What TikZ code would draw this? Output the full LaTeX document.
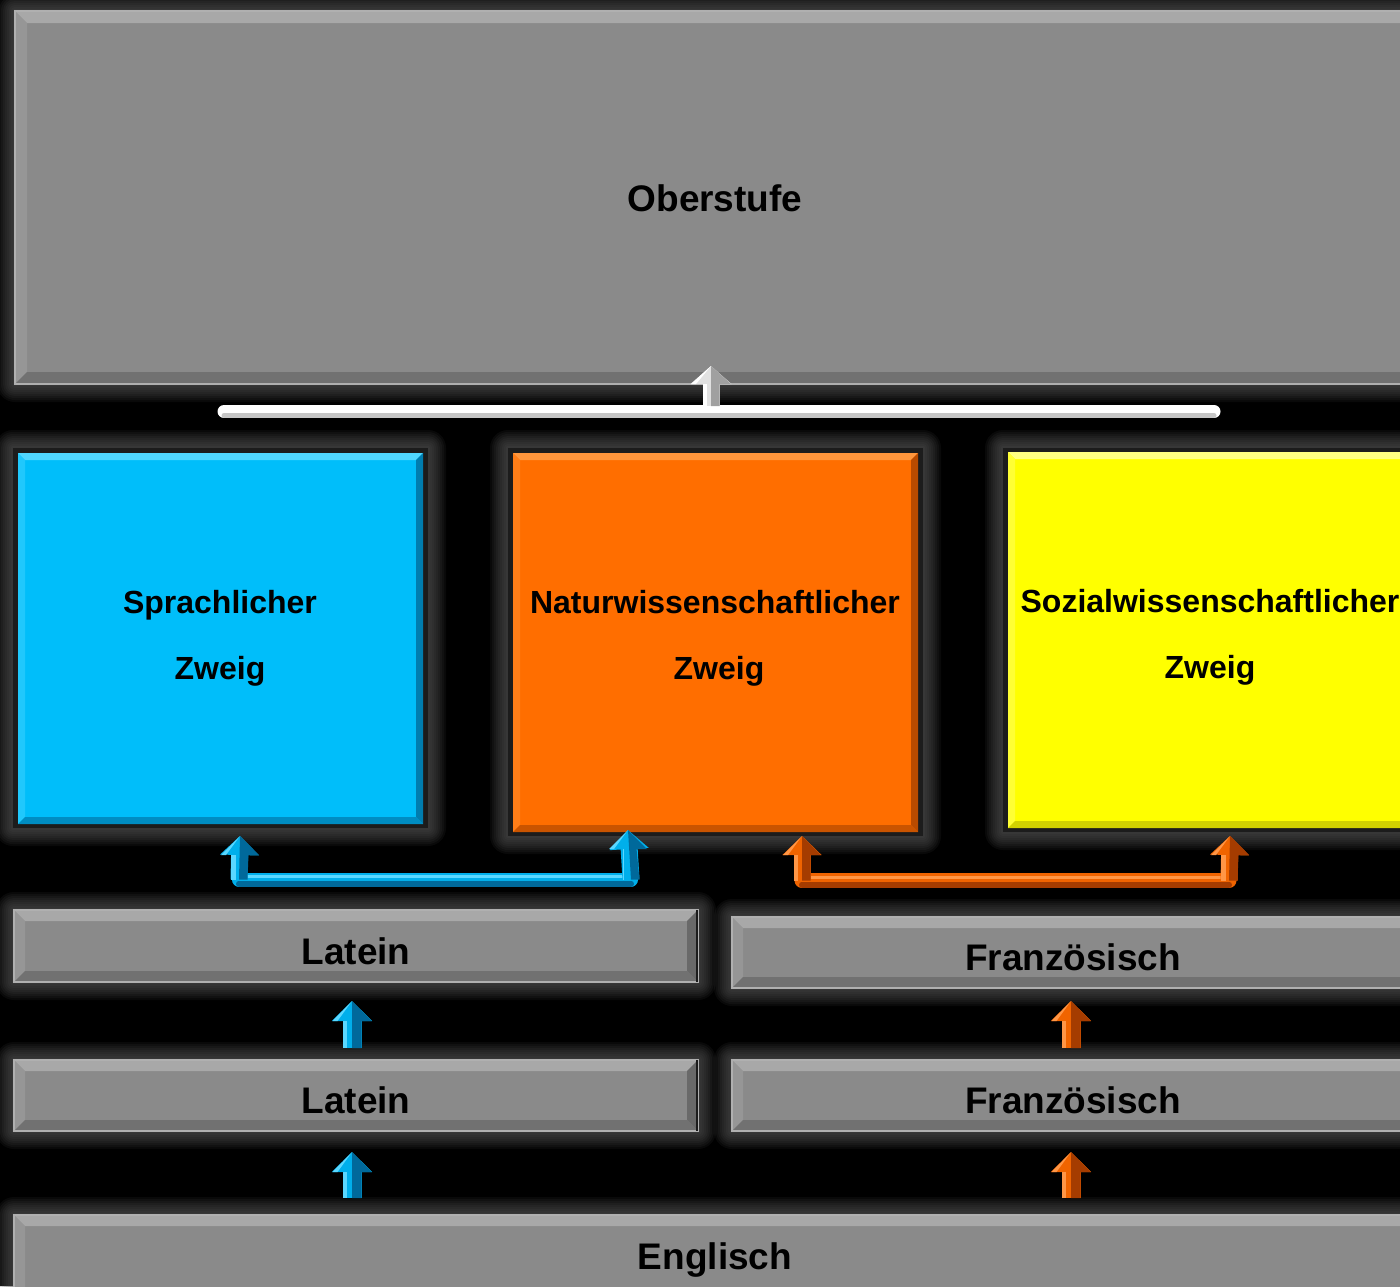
\documentclass[tikz,border=0pt]{standalone}
\usepackage{fontspec}
\setmainfont{Liberation Sans}
\usetikzlibrary{arrows.meta}
\definecolor{glowc}{RGB}{95,95,95}
\definecolor{boxgray}{RGB}{138,138,138}
\definecolor{graylight}{RGB}{168,168,168}
\definecolor{graydark}{RGB}{105,105,105}
\definecolor{grayline}{RGB}{176,176,176}
\definecolor{bluec}{RGB}{0,190,250}
\definecolor{bluelight}{RGB}{80,215,255}
\definecolor{bluedark}{RGB}{0,125,175}
\definecolor{bluearr}{RGB}{0,175,235}
\definecolor{bluearrd}{RGB}{0,105,155}
\definecolor{bluearrl}{RGB}{90,215,255}
\definecolor{orangec}{RGB}{255,110,0}
\definecolor{orangelight}{RGB}{255,150,60}
\definecolor{orangedark}{RGB}{185,75,0}
\definecolor{orangearr}{RGB}{240,100,0}
\definecolor{orangearrd}{RGB}{165,60,0}
\definecolor{orangearrl}{RGB}{255,150,70}
\definecolor{yellowc}{RGB}{255,255,0}
\definecolor{yellowlight}{RGB}{255,255,130}
\definecolor{yellowdark}{RGB}{195,195,0}
\definecolor{whitearr}{RGB}{225,225,225}
\definecolor{whitearrd}{RGB}{160,160,160}
\definecolor{edgec}{RGB}{28,28,28}
\tikzset{
  panelnode/.style={rectangle, inner sep=0pt, outer sep=0pt, draw=none},
  biglbl/.style={font=\fontsize{37}{44}\selectfont\bfseries, anchor=base, inner sep=0pt, text=black},
  boxlbl/.style={font=\fontsize{32}{38}\selectfont\bfseries, anchor=base, inner sep=0pt, text=black},
  barline/.style={line width=#1pt, line cap=round},
}
% soft glow around a rectangle
\newcommand\glowrect[4]{%
  \foreach \g in {18,16,...,2}{%
    \fill[glowc,opacity=0.1,rounded corners=\g pt] (#1-\g,#2-\g) rectangle (#3+\g,#4+\g);}}
% bevelled panel node
\newcommand\panel[9]{%
  \pgfmathsetmacro\pw{#4-#2}\pgfmathsetmacro\ph{#5-#3}%
  \node[panelnode, fill=#6, minimum width=\pw pt, minimum height=\ph pt] (#1) at ({(#2+#4)/2},{(#3+#5)/2}) {};
  \fill[#7] (#1.north west) -- (#1.north east) -- ([shift={(-#9pt,-#9pt)}]#1.north east) -- ([shift={(#9pt,-#9pt)}]#1.north west) -- cycle;
  \fill[#7!40!#6] (#1.north west) -- ([shift={(#9pt,-#9pt)}]#1.north west) -- ([shift={(#9pt,#9pt)}]#1.south west) -- (#1.south west) -- cycle;
  \fill[#8] (#1.north east) -- (#1.south east) -- ([shift={(-#9pt,#9pt)}]#1.south east) -- ([shift={(-#9pt,-#9pt)}]#1.north east) -- cycle;
  \fill[#8!75!#6] (#1.south west) -- ([shift={(#9pt,#9pt)}]#1.south west) -- ([shift={(-#9pt,#9pt)}]#1.south east) -- (#1.south east) -- cycle;
}
% 3D block arrow from #1 (base) to #2 (tip)
\newcommand\blockarr[8]{%
  \pgfmathsetmacro\hs{#3/2}\pgfmathsetmacro\hh{#4/2}\pgfmathsetmacro\hl{-#3/2+4}\pgfmathsetmacro\hm{-#4/2+5}%
  \draw[#6, line width=#3pt, -{Triangle[width=#4pt,length=#5pt]}] (#1) -- (#2);
  \fill[#7] (#1) -- ([xshift=\hs pt]#1) -- ([shift={(\hs pt,-#5pt)}]#2) -- ([shift={(\hh pt,-#5pt)}]#2) -- (#2) -- cycle;
  \fill[#8] ([xshift=-\hs pt]#1) rectangle ([shift={(\hl pt,-#5pt)}]#2);
  \fill[#8] (#2) -- ([shift={(-\hh pt,-#5pt)}]#2) -- ([shift={(\hm pt,-#5pt)}]#2) -- cycle;
}
\begin{document}
\begin{tikzpicture}[x=1pt,y=-1pt]
\useasboundingbox (0,0) rectangle (1400,1286);
\fill[black] (0,0) rectangle (1400,1286);

% glows
\glowrect{15}{11}{1420}{384}
\glowrect{13}{448}{428}{828}
\glowrect{508}{448}{923}{836}
\glowrect{1003}{448}{1420}{832}
\glowrect{14}{910}{698}{982}
\glowrect{732}{917}{1420}{988}
\glowrect{14}{1060}{698}{1131}
\glowrect{732}{1060}{1420}{1131}
\glowrect{14}{1215}{1420}{1300}

% dark borders of coloured panels
\fill[edgec] (13,448) rectangle (428,828);
\fill[edgec] (508,448) rectangle (923,836);
\fill[edgec] (1003,448) rectangle (1420,832);

% panels
\panel{ober}{15}{11}{1420}{384}{boxgray}{graylight}{graydark}{12}
\panel{sprach}{18}{453}{423}{824}{bluec}{bluelight}{bluedark}{7}
\panel{natur}{513}{453}{918}{832}{orangec}{orangelight}{orangedark}{7}
\panel{sozial}{1008}{452}{1420}{828}{yellowc}{yellowlight}{yellowdark}{7}
\panel{latA}{14}{910}{698}{982}{boxgray}{graylight}{graydark}{11}
\panel{franzA}{732}{917}{1420}{988}{boxgray}{graylight}{graydark}{11}
\panel{latB}{14}{1060}{698}{1131}{boxgray}{graylight}{graydark}{11}
\panel{franzB}{732}{1060}{1420}{1131}{boxgray}{graylight}{graydark}{11}
\panel{engl}{14}{1215}{1420}{1300}{boxgray}{graylight}{graydark}{11}

\foreach \n in {ober,latA,franzA,latB,franzB,engl}{
  \draw[grayline, line width=1.6pt] (\n.north west) rectangle (\n.south east);
  \draw[edgec, line width=1.4pt] ([xshift=-1pt]\n.north east) -- ([xshift=-1pt]\n.south east);
}

% labels
\node[biglbl] (tober) at (715,211) {Oberstufe};
\node[boxlbl] (tsp1) at (220,613) {Sprachlicher};
\node[boxlbl] (tsp2) at (220,679) {Zweig};
\node[boxlbl] (tna1) at (715,613) {Naturwissenschaftlicher};
\node[boxlbl] (tna2) at (719,679) {Zweig};
\node[boxlbl] (tso1) at (1210,612) {Sozialwissenschaftlicher};
\node[boxlbl] (tso2) at (1210,678) {Zweig};
\node[biglbl] (tla1) at (356,964) {Latein};
\node[biglbl] (tfr1) at (1073,970) {Französisch};
\node[biglbl] (tla2) at (356,1113) {Latein};
\node[biglbl] (tfr2) at (1073,1113) {Französisch};
\node[biglbl] (ten) at (715,1269) {Englisch};

% connector coordinates
\coordinate (wb1) at (224,411.5);
\coordinate (wb2) at (1214,411.5);
\coordinate (wab) at (711,406);
\coordinate (wat) at (711,366);
\coordinate (bb1) at (239,879.5);
\coordinate (bb2) at (631,879.5);
\coordinate (bat1) at (240,836);
\coordinate (bat2) at (628,830);
\coordinate (ob1) at (802,880.5);
\coordinate (ob2) at (1229,880.5);
\coordinate (oat1) at (802,836);
\coordinate (oat2) at (1230,836);
\coordinate (ba1b) at (352,1048);
\coordinate (ba1t) at (352,1001);
\coordinate (ba2b) at (352,1198);
\coordinate (ba2t) at (352,1152);
\coordinate (oa1b) at (1071,1048);
\coordinate (oa1t) at (1071,1001);
\coordinate (oa2b) at (1071,1198);
\coordinate (oa2t) at (1071,1152);

% white bar and arrow to Oberstufe
\draw[barline=13, white] (wb1) -- (wb2);
\draw[barline=5, whitearrd!60!white] ([yshift=-4pt]wb1) -- ([yshift=-4pt]wb2);
\blockarr{wab}{wat}{17}{40}{18}{whitearr}{whitearrd}{white}

% blue bracket
\draw[barline=14, bluearr] (bb1) -- (bb2);
\draw[barline=6, bluearrd] ([yshift=-4pt]bb1) -- ([yshift=-4pt]bb2);
\draw[barline=3, bluearrl] ([yshift=3pt]bb1) -- ([yshift=3pt]bb2);
\blockarr{bb1}{bat1}{17}{38}{19}{bluearr}{bluearrd}{bluearrl}
\blockarr{bb2}{bat2}{17}{38}{19}{bluearr}{bluearrd}{bluearrl}

% orange bracket
\draw[barline=15, orangearr] (ob1) -- (ob2);
\draw[barline=6, orangearrd] ([yshift=-4pt]ob1) -- ([yshift=-4pt]ob2);
\draw[barline=3, orangearrl] ([yshift=3pt]ob1) -- ([yshift=3pt]ob2);
\blockarr{ob1}{oat1}{17}{38}{19}{orangearr}{orangearrd}{orangearrl}
\blockarr{ob2}{oat2}{17}{38}{19}{orangearr}{orangearrd}{orangearrl}

% small arrows
\blockarr{ba1b}{ba1t}{19}{39}{20}{bluearr}{bluearrd}{bluearrl}
\blockarr{ba2b}{ba2t}{19}{39}{20}{bluearr}{bluearrd}{bluearrl}
\blockarr{oa1b}{oa1t}{19}{39}{20}{orangearr}{orangearrd}{orangearrl}
\blockarr{oa2b}{oa2t}{19}{39}{20}{orangearr}{orangearrd}{orangearrl}
\end{tikzpicture}
\end{document}
